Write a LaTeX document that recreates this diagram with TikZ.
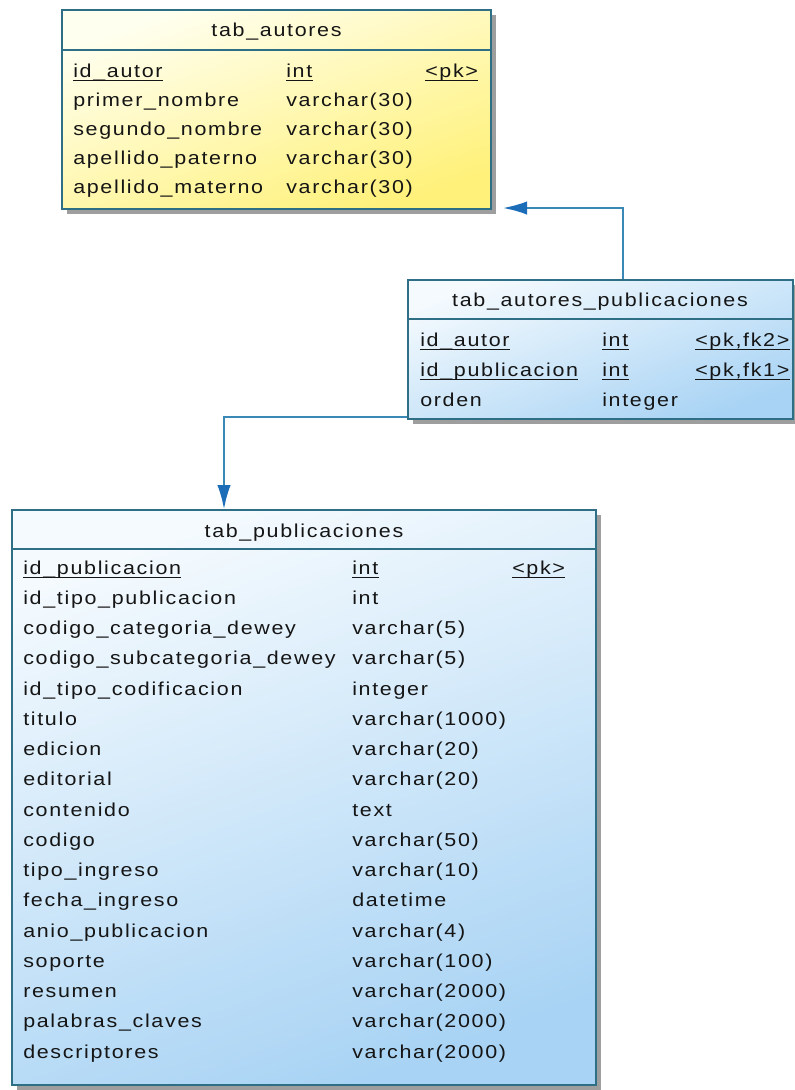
\documentclass[tikz,border=0pt]{standalone}
\usepackage{fontspec}
\setmainfont{Liberation Sans}[LetterSpace=9,FakeStretch=1.15]
\usetikzlibrary{arrows.meta,fit,shadows}
\definecolor{bord}{HTML}{2F6F86}
\definecolor{yel}{HTML}{FFF17A}
\definecolor{yellight}{HTML}{FFFFF0}
\definecolor{blu}{HTML}{A8D3F4}
\definecolor{blulight}{HTML}{F4FAFE}
\definecolor{connc}{HTML}{3A88B5}
\definecolor{arrc}{HTML}{1C6DB8}
\definecolor{txt}{HTML}{151515}
\begin{document}
\begin{tikzpicture}[x=0.75pt,y=-0.75pt,
  tblshadow/.style={general shadow={fill=black!38, shadow xshift=3.75pt, shadow yshift=-3.75pt}},
  ytbl/.style={draw=bord, line width=1.3pt, inner sep=0pt, tblshadow, top color=yellight, bottom color=yel, shading angle=20},
  btbl/.style={draw=bord, line width=1.3pt, inner sep=0pt, tblshadow, top color=blulight, bottom color=blu, shading angle=20},
  sepline/.style={draw=bord, line width=1.2pt},
  hdr/.style={anchor=base, inner sep=0pt, text=txt, font=\fontsize{14}{16}\selectfont},
  fld/.style={anchor=base west, inner sep=0pt, text=txt, font=\fontsize{14}{16}\selectfont},
  ul/.style={draw=txt, line width=0.9pt},
  connline/.style={draw=connc, line width=1.5pt},
  fkarrow/.style={connline, -{Latex[length=18pt,width=10pt,color=arrc]}}
]
\useasboundingbox (0,0) rectangle (794,1090);
\fill[white] (0,0) rectangle (794,1090);

% ---------- tab_autores ----------
\node[ytbl, fit={(62,10) (491,209)}] (t1) {};
\draw[sepline] (62,50) -- (491,50);
\node[hdr] (t1h) at (276.5,36) {tab\_autores};
\node[fld] (t1n1) at (73,77) {id\_autor};
\node[fld] (t1t1) at (286,77) {int};
\node[fld] (t1k1) at (425,77) {<pk>};
\foreach \a in {t1n1,t1t1,t1k1}
  \draw[ul] ([yshift=-2.5pt]\a.base west) -- ([yshift=-2.5pt]\a.base east);
\foreach \n [count=\i] in {primer\_nombre, segundo\_nombre, apellido\_paterno, apellido\_materno}{
  \node[fld] (t1n\i x) at (73,{77+29*\i}) {\n};
  \node[fld] (t1t\i x) at (286,{77+29*\i}) {varchar(30)};
}

% ---------- tab_autores_publicaciones ----------
\node[btbl, fit={(408,280) (793,419)}] (t2) {};
\draw[sepline] (408,319) -- (793,319);
\node[hdr] (t2h) at (600,306) {tab\_autores\_publicaciones};
\node[fld] (t2n1) at (420,346) {id\_autor};
\node[fld] (t2t1) at (602,346) {int};
\node[fld] (t2k1) at (695,346) {<pk,fk2>};
\node[fld] (t2n2) at (420,376) {id\_publicacion};
\node[fld] (t2t2) at (602,376) {int};
\node[fld] (t2k2) at (695,376) {<pk,fk1>};
\node[fld] (t2n3) at (420,406) {orden};
\node[fld] (t2t3) at (602,406) {integer};
\foreach \a in {t2n1,t2t1,t2k1,t2n2,t2t2,t2k2}
  \draw[ul] ([yshift=-2.5pt]\a.base west) -- ([yshift=-2.5pt]\a.base east);

% ---------- tab_publicaciones ----------
\node[btbl, fit={(12,510) (596,1085)}] (t3) {};
\draw[sepline] (12,549) -- (596,549);
\node[hdr] (t3h) at (304,537) {tab\_publicaciones};
\node[fld] (t3n0) at (23,574) {id\_publicacion};
\node[fld] (t3t0) at (352,574) {int};
\node[fld] (t3k0) at (512,574) {<pk>};
\foreach \a in {t3n0,t3t0,t3k0}
  \draw[ul] ([yshift=-2.5pt]\a.base west) -- ([yshift=-2.5pt]\a.base east);
\foreach \n/\t [count=\i] in {
  id\_tipo\_publicacion/int,
  codigo\_categoria\_dewey/varchar(5),
  codigo\_subcategoria\_dewey/varchar(5),
  id\_tipo\_codificacion/integer,
  titulo/varchar(1000),
  edicion/varchar(20),
  editorial/varchar(20),
  contenido/text,
  codigo/varchar(50),
  tipo\_ingreso/varchar(10),
  fecha\_ingreso/datetime,
  anio\_publicacion/varchar(4),
  soporte/varchar(100),
  resumen/varchar(2000),
  palabras\_claves/varchar(2000),
  descriptores/varchar(2000)}{
  \node[fld] (t3n\i) at (23,{574+30.25*\i}) {\n};
  \node[fld] (t3t\i) at (352,{574+30.25*\i}) {\t};
}

% ---------- connectors ----------
\coordinate (c1) at (623,208);
\coordinate (c1end) at (503,208);
\coordinate (c2) at (224,417);
\draw[fkarrow] (t2.north -| c1) |- (c1end);
\draw[fkarrow] (t2.west |- c2) -| (t3.north -| c2);
\end{tikzpicture}
\end{document}
